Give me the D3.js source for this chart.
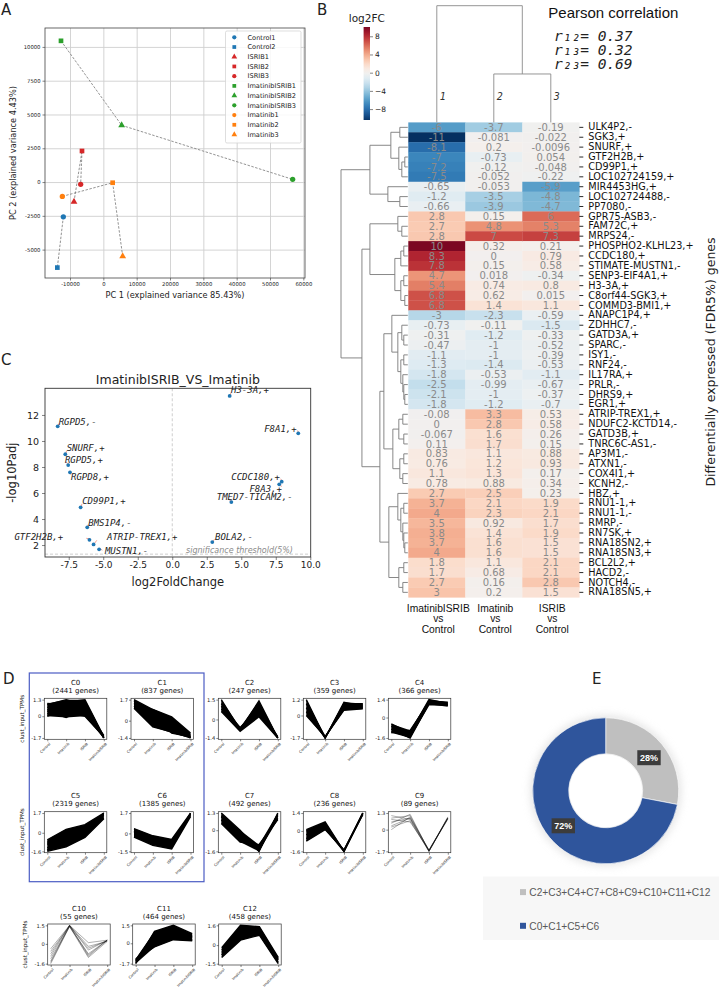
<!DOCTYPE html>
<html><head><meta charset="utf-8">
<script src="https://cdn.jsdelivr.net/npm/d3@7"></script>
<style>body{margin:0;background:#fff}svg{display:block}</style>
</head><body><svg id="fig" width="719" height="991"></svg>
<script>
// ================= DATA =================
// Panel A: PCA
const pcaSamples = ["Control1","Control2","ISRIB1","ISRIB2","ISRIB3","ImatinibISRIB1","ImatinibISRIB2","ImatinibISRIB3","Imatinib1","Imatinib2","Imatinib3"];
const pcaGroups  = ["Control","Control","ISRIB","ISRIB","ISRIB","ImatinibISRIB","ImatinibISRIB","ImatinibISRIB","Imatinib","Imatinib","Imatinib"];
const pcaShapes  = ["circle","square","triangle","square","circle","square","triangle","circle","circle","square","triangle"];
const pc1 = [-12000,-13800,-8800,-6400,-6800,-12700,5500,56800,-12300,2800,5800];
const pc2 = [-2570,-6330,-1460,2300,-170,10450,4200,200,-1060,-50,-5490];
const pcaXTicks = [-10000,0,10000,20000,30000,40000,50000,60000];
const pcaYTicks = [-5000,-2500,0,2500,5000,7500,10000];

// Panel B: heatmap
const heatGenes = ["ULK4P2,-","SGK3,+","SNURF,+","GTF2H2B,+","CD99P1,+","LOC102724159,+","MIR4453HG,+","LOC102724488,-","PP7080,-","GPR75-ASB3,-","FAM72C,+","MRPS24,-","PHOSPHO2-KLHL23,+","CCDC180,+","STIMATE-MUSTN1,-","SENP3-EIF4A1,+","H3-3A,+","C8orf44-SGK3,+","COMMD3-BMI1,+","ANAPC1P4,+","ZDHHC7,-","GATD3A,+","SPARC,-","ISY1,-","RNF24,-","IL17RA,+","PRLR,-","DHRS9,+","EGR1,+","ATRIP-TREX1,+","NDUFC2-KCTD14,-","GATD3B,+","TNRC6C-AS1,-","AP3M1,-","ATXN1,-","COX4I1,+","KCNH2,-","HBZ,+","RNU1-1,+","RNU1-1,-","RMRP,-","RN7SK,+","RNA18SN2,+","RNA18SN3,+","BCL2L2,+","HACD2,-","NOTCH4,-","RNA18SN5,+"];
const heatImatinibISRIB = [-6,-11,-8.1,-7,-7.2,-7.5,-0.65,-1.2,-0.66,2.8,2.7,2.8,10,8.3,7.8,4.7,5.4,6.8,6.8,-3,-0.73,-0.31,-0.47,-1.1,-1.3,-1.8,-2.5,-2.1,-1.8,-0.08,0,-0.067,0.11,0.83,0.76,1.1,0.78,2.7,3.7,4,3.5,3.8,3.7,4,1.8,1.7,2.7,3];
const heatImatinib = [-3.7,-0.081,0.2,-0.73,-0.12,-0.052,-0.053,-3.5,-3.9,0.15,4.8,7,0.32,0,0.15,0.018,0.74,0.62,1.4,-2.3,-0.11,-1.2,-1,-1,-1.4,-0.53,-0.99,-1,-1.2,3.3,2.8,1.6,1.7,1.1,1.2,1.3,0.88,2.5,2.1,2.3,0.92,1.4,1.6,1.6,1.1,0.68,0.16,0.2];
const heatISRIB = [-0.19,-0.022,-0.0096,0.054,-0.048,-0.22,-5.9,-4.8,-4.7,6,5.3,7.3,0.21,0.79,0.58,-0.34,0.8,0.015,1.1,-0.59,-1.5,-0.33,-0.52,-0.39,-0.53,-1.1,-0.67,-0.37,-0.7,0.53,0.58,0.26,0.15,0.88,0.93,0.17,0.34,0.23,1.9,2.1,1.7,1.9,1.5,1.5,2.1,2.1,2.8,1.5];
const heatColumns = [["ImatinibISRIB","vs","Control"],["Imatinib","vs","Control"],["ISRIB","vs","Control"]];
const colorbarTicks = [8,4,0,-4,-8];
const pearson = [["\u2081\u2082","0.37"],["\u2081\u2083","0.32"],["\u2082\u2083","0.69"]];
// row dendrogram: [height, left, right], leaves = row index
const rowTree = [67,
  [38, [17,[8,0,1],[9,2,[6,[3,3,4],5]]], [20,6,[8,7,8]]],
  [46,
    [38, [10,9,[6,10,11]], [13,[7,[4,12,13],14],[7,[4,15,16],[3,17,18]]]],
    [28,
      [24, [16,19,[10,[6,20,[4,21,22]],[7,[4,23,24],[5,25,[4,26,[3,27,28]]]]]],
           [15,[9,[5,29,30],[4,31,32]],[8,[4,33,34],[5,35,36]]]],
      [19,[10,37,[7,[4,38,39],[5,40,[4,41,[3,42,43]]]]],[9,[4,44,45],[5,46,47]]]
    ]
  ]
];
const colTree = [1.0, 0, [0.415, 1, 2]];

// Panel C: volcano
const volcGenes  = ["RGPD5,-","SNURF,+","RGPD5,+","RGPD8,+","CD99P1,+","BMS1P4,-","GTF2H2B,+","ATRIP-TREX1,+","MUSTN1,-","H3-3A,+","F8A1,+","CCDC180,+","F8A3,+","TMED7-TICAM2,-","BOLA2,-"];
const volcLog2FC = [-8.30,-7.75,-7.54,-7.41,-6.64,-6.16,-6.0,-5.7,-5.3,4.16,9.13,7.93,7.75,4.28,2.9];
const volcNegLogP = [11.13,8.98,8.15,7.59,4.9,3.36,2.4,2.05,1.67,13.46,10.59,6.87,6.67,5.3,2.23];
const volcXTicks = [-7.5,-5,-2.5,0,2.5,5,7.5,10];
const volcYTicks = [2,4,6,8,10,12];

// Panel D: clusters
const conditions = ["Control","Imatinib","ISRIB","ImatinibISRIB"];
const clusterNames = ["C0","C1","C2","C3","C4","C5","C6","C7","C8","C9","C10","C11","C12"];
const clusterSizes = [2441,837,247,359,366,2319,1385,492,236,89,55,464,458];
const clusterTicks = [[1.3,0,-1.7],[1.7,0,-1.4],[1.5,0,-1.4],[1.2,0,-1.7],[1.4,0,-1.6],[1.7,0,-1.6],[1.7,0,-1.5],[1.3,0,-1.6],[1.4,0,-1.6],[1.3,0,-1.7],[1.5,0,-1.6],[1.5,0,-1.7],[1.6,0,-1.5]];
const clusterProfiles = [
  [[1.0,0.9,1.2,-1.7],[0.9,1.3,0.9,-1.7],[0.5,1.1,1.3,-1.6],[0.0,0.6,0.3,-1.7],[0.4,-0.1,0.6,-1.5],[0.2,0.3,0.0,-1.6],[0.7,0.5,0.8,-1.7]],
  [[1.7,0.9,0.2,-1.2],[1.0,0.9,0.3,-1.0],[1.4,0.2,-0.3,-1.3],[1.2,-0.4,0.0,-1.4],[1.6,0.5,-1.0,-1.3],[1.0,-0.5,-0.9,-1.4]],
  [[1.5,-0.8,1.4,-1.4],[0.6,-0.9,0.2,-1.4],[1.0,-0.6,0.8,-1.3],[1.2,-0.8,0.4,-1.4],[0.8,-0.7,1.1,-1.4]],
  [[1.2,-1.7,0.9,0.9],[0.0,-1.6,0.5,0.6],[0.6,-1.7,0.7,0.8],[0.9,-1.6,0.4,0.5],[0.3,-1.7,1.0,0.7]],
  [[-0.5,-1.2,1.4,1.1],[-1.2,-1.0,1.2,1.0],[-0.9,-1.6,1.1,0.9],[-0.7,-1.3,1.3,1.2],[-1.1,-1.5,1.0,1.0]],
  [[-0.6,0.3,0.7,1.7],[-1.6,-1.2,-0.4,1.2],[-1.0,0.0,0.2,1.5],[-1.3,-0.5,0.5,1.6],[-0.8,-0.9,-0.1,1.3],[-1.5,0.2,0.0,1.7]],
  [[0.4,-0.2,-0.5,1.7],[-0.3,-1.0,-1.3,1.4],[0.1,-0.5,-0.8,1.6],[0.2,-0.8,-0.6,1.5],[-0.1,-0.3,-1.1,1.7]],
  [[1.3,0.0,-1.6,1.3],[0.5,-0.9,-1.1,0.8],[1.0,-0.4,-1.4,1.1],[0.8,-0.7,-1.2,0.9],[1.1,-0.2,-1.6,1.2]],
  [[0.1,0.7,-1.6,1.4],[-0.8,0.1,-1.5,1.3],[-0.3,0.5,-1.6,1.4],[-0.6,0.3,-1.5,1.4],[0.0,0.2,-1.6,1.3]],
  [[1.1,0.8,-1.7,0.9],[0.0,1.0,-1.6,0.9],[0.5,1.2,-1.7,1.0],[0.8,0.6,-1.6,0.8],[0.3,0.9,-1.7,0.9],[0.9,1.1,-1.65,0.85],[0.2,0.7,-1.7,0.95],[0.6,0.9,-1.6,0.9]],
  [[-0.4,1.5,0.1,0.3],[-1.6,1.4,-1.1,0.2],[-0.8,1.5,-0.5,0.3],[-1.2,1.4,-0.8,0.3],[-1.0,1.5,-0.2,0.2],[-1.4,1.5,-0.9,0.3],[-0.6,1.45,-0.35,0.25],[-1.5,1.45,-1.0,0.3]],
  [[-1.7,1.0,1.5,0.8],[-1.3,-0.3,0.3,0.2],[-1.5,0.6,1.0,0.5],[-1.6,0.2,0.8,0.6],[-1.4,0.8,0.4,0.3]],
  [[-0.2,1.6,1.5,-1.0],[-1.0,0.4,0.8,-1.5],[-0.6,1.0,1.2,-1.2],[-0.8,1.4,0.9,-1.4],[-0.4,0.7,1.4,-1.1]]
];
const clusterSparse = [false,false,false,false,false,false,false,false,false,true,true,false,false];

// Panel E: donut
const donutLabels = ["C2+C3+C4+C7+C8+C9+C10+C11+C12","C0+C1+C5+C6"];
const donutValues = [28,72];

// ================= DRAWING =================
const svg = d3.select("#fig");
svg.append("rect").attr("width",719).attr("height",991).attr("fill","#fff");
const defs = svg.append("defs");
const FS = "DejaVu Sans, sans-serif", FA = "Liberation Sans, Arial, sans-serif", FM = "DejaVu Sans Mono, monospace";
const loc = d3.formatLocale({decimal:".",thousands:",",grouping:[3],currency:["",""],minus:"-"});
const fmt2 = loc.format(".2~g");
const fmtG = loc.format("~g");

function txt(g, s, x, y, size, fam, opts={}) {
  const t = g.append("text").attr("x",x).attr("y",y).attr("font-size",size).attr("font-family",fam)
    .attr("fill",opts.fill||"#111").text(s);
  if (opts.anchor) t.attr("text-anchor",opts.anchor);
  if (opts.style) t.attr("font-style",opts.style);
  if (opts.weight) t.attr("font-weight",opts.weight);
  if (opts.rotate!==undefined) t.attr("transform",`rotate(${opts.rotate},${x},${y})`);
  return t;
}
function styleAxis(g, size, fam, col="#222") {
  g.select(".domain").remove();
  g.selectAll(".tick text").attr("font-size",size).attr("font-family",fam).attr("fill",col);
  g.selectAll(".tick line").attr("stroke","#333").attr("stroke-width",0.6);
}

// panel letters
[["A",1,15],["B",317,15],["C",1,365],["D",3,684],["E",592,684]].forEach(([s,x,y])=>txt(svg,s,x,y,15,FS,{fill:"#222"}));

// ---------- Panel A ----------
{
  const L=45,R=305,T=28,B=278;
  const x = d3.scaleLinear().domain([-17500,60500]).range([L,R]);
  const y = d3.scaleLinear().domain([-7100,11400]).range([B,T]);
  const g = svg.append("g");
  g.append("g").attr("transform",`translate(0,${B})`).call(d3.axisBottom(x).tickValues(pcaXTicks).tickSize(-(B-T)).tickFormat(""))
    .call(a=>{a.select(".domain").remove();a.selectAll("line").attr("stroke","#cfcfcf").attr("stroke-width",0.9);});
  g.append("g").attr("transform",`translate(${L},0)`).call(d3.axisLeft(y).tickValues(pcaYTicks).tickSize(-(R-L)).tickFormat(""))
    .call(a=>{a.select(".domain").remove();a.selectAll("line").attr("stroke","#cfcfcf").attr("stroke-width",0.9);});
  g.append("g").attr("transform",`translate(0,${B})`).call(d3.axisBottom(x).tickValues(pcaXTicks).tickSize(2.5).tickPadding(2).tickFormat(loc.format("d")))
    .call(a=>styleAxis(a,5.3,FS));
  g.append("g").attr("transform",`translate(${L},0)`).call(d3.axisLeft(y).tickValues(pcaYTicks).tickSize(2.5).tickPadding(2).tickFormat(loc.format("d")))
    .call(a=>styleAxis(a,5.3,FS));
  g.append("rect").attr("x",L).attr("y",T).attr("width",R-L).attr("height",B-T).attr("fill","none").attr("stroke","#444").attr("stroke-width",0.8);
  const colorOf = {Control:"#1f77b4",ISRIB:"#d62728",ImatinibISRIB:"#2ca02c",Imatinib:"#ff7f0e"};
  const symOf = {circle:d3.symbolCircle,square:d3.symbolSquare,triangle:d3.symbolTriangle};
  const groups = ["Control","ISRIB","ImatinibISRIB","Imatinib"];
  groups.forEach(gr=>{
    const idx = pcaGroups.map((v,i)=>v===gr?i:-1).filter(i=>i>=0);
    g.append("path").attr("d",d3.line()(idx.map(i=>[x(pc1[i]),y(pc2[i])])))
      .attr("fill","none").attr("stroke","#777").attr("stroke-width",0.8).attr("stroke-dasharray","2.5,1.5");
  });
  pcaSamples.forEach((s,i)=>{
    g.append("path").attr("d",d3.symbol(symOf[pcaShapes[i]], pcaShapes[i]==="triangle"?20:22)())
      .attr("transform",`translate(${x(pc1[i])},${y(pc2[i])})`).attr("fill",colorOf[pcaGroups[i]]);
  });
  // legend
  g.append("rect").attr("x",225.5).attr("y",31).attr("width",75.5).attr("height",112).attr("rx",1.5)
    .attr("fill","#fff").attr("fill-opacity",0.85).attr("stroke","#d0d0d0").attr("stroke-width",0.7);
  pcaSamples.forEach((s,i)=>{
    const yy = 37.3 + i*9.72;
    g.append("path").attr("d",d3.symbol(symOf[pcaShapes[i]], 14)()).attr("transform",`translate(234.3,${yy})`).attr("fill",colorOf[pcaGroups[i]]);
    txt(g,s,247.5,yy+2.3,6.6,FS,{fill:"#222"});
  });
  txt(g,"PC 1 (explained variance 85.43%)",(L+R)/2,297.5,8.2,FS,{anchor:"middle",fill:"#222"});
  txt(g,"PC 2 (explained variance 4.43%)",16,153,8.2,FS,{anchor:"middle",rotate:-90,fill:"#222"});
}

// ---------- Panel B ----------
{
  const g = svg.append("g");
  const HL=408.3, HR=579.3, HT=122.4, HB=597.3;
  const col = d3.scaleBand().domain([0,1,2]).range([HL,HR]);
  const row = d3.scaleBand().domain(d3.range(heatGenes.length)).range([HT,HB]);
  const vr = 10.6;
  const color = v => d3.interpolateRdBu(Math.max(0,Math.min(1,0.5 - v/(2*vr))));
  const cols = [heatImatinibISRIB, heatImatinib, heatISRIB];
  cols.forEach((vals,c)=>{
    vals.forEach((v,r)=>{
      g.append("rect").attr("x",col(c)).attr("y",row(r)).attr("width",col.bandwidth()+0.3).attr("height",row.bandwidth()+0.3).attr("fill",color(v));
    });
  });
  cols.forEach((vals,c)=>{
    vals.forEach((v,r)=>{
      txt(g,fmt2(v),col(c)+col.bandwidth()/2,row(r)+row.bandwidth()/2+3.6,10,FS,{anchor:"middle",fill:"#8a8a8a"});
    });
  });
  // gene labels
  g.append("g").attr("transform",`translate(${HR},0)`).call(d3.axisRight(row).tickSize(4).tickPadding(5).tickFormat(i=>heatGenes[i]))
    .call(a=>{styleAxis(a,9.7,FS,"#111");a.selectAll(".tick line").attr("stroke","#111").attr("stroke-width",0.9);});
  // column labels
  heatColumns.forEach((lines,c)=>{
    lines.forEach((s,k)=>txt(g,s,col(c)+col.bandwidth()/2+1.5,612+k*10.4,10.3,FA,{anchor:"middle",fill:"#111"}));
  });
  // dendrograms
  const rx = d3.scaleLinear().domain([0,67]).range([HL-0.5,341]);
  function drawRow(node){
    if (typeof node === "number") return {y: row(node)+row.bandwidth()/2, h:0};
    const [h,l,r] = node; const A=drawRow(l), Bn=drawRow(r);
    g.append("path").attr("d",`M${rx(A.h)},${A.y}H${rx(h)}V${Bn.y}H${rx(Bn.h)}`).attr("fill","none").attr("stroke","#7a7a7a").attr("stroke-width",0.9);
    return {y:(A.y+Bn.y)/2, h};
  }
  drawRow(rowTree);
  const cy = d3.scaleLinear().domain([0,1]).range([HT,5.7]);
  function drawCol(node){
    if (typeof node === "number") return {x: col(node)+col.bandwidth()/2, h:0};
    const [h,l,r] = node; const A=drawCol(l), Bn=drawCol(r);
    g.append("path").attr("d",`M${A.x},${cy(A.h)}V${cy(h)}H${Bn.x}V${cy(Bn.h)}`).attr("fill","none").attr("stroke","#8a8a8a").attr("stroke-width",0.9);
    return {x:(A.x+Bn.x)/2, h};
  }
  drawCol(colTree);
  ["1","2","3"].forEach((s,c)=>txt(g,s,col(c)+col.bandwidth()/2+3,100,10,FM,{style:"italic",fill:"#333"}));
  // colorbar
  const cb = d3.scaleLinear().domain([-10.4,10.04]).range([120,27]);
  const grad = defs.append("linearGradient").attr("id","cbgrad").attr("x1",0).attr("y1",1).attr("x2",0).attr("y2",0);
  d3.range(0,1.0001,0.05).forEach(t=>{
    const v = -10.4 + t*(20.44);
    grad.append("stop").attr("offset",t).attr("stop-color",color(v));
  });
  g.append("rect").attr("x",363.6).attr("y",27).attr("width",6.4).attr("height",93).attr("fill","url(#cbgrad)");
  g.append("g").attr("transform","translate(370,0)").call(d3.axisRight(cb).tickValues(colorbarTicks).tickSize(3).tickPadding(2).tickFormat(d3.format("d")))
    .call(a=>styleAxis(a,7.5,FS,"#222"));
  txt(g,"log2FC",366.8,21.5,10.5,FS,{anchor:"middle",fill:"#222"});
  // pearson
  txt(g,"Pearson correlation",548.3,18.3,15,FA,{fill:"#111"});
  pearson.forEach(([sub,val],k)=>{
    const t = g.append("text").attr("x",554).attr("y",40.5+k*14.3).attr("font-family",FM).attr("font-size",14.5).attr("font-style","italic").attr("fill","#222");
    t.append("tspan").text("r");
    t.append("tspan").text(sub);
    t.append("tspan").text("= "+val);
  });
  txt(g,"Differentially expressed (FDR5%) genes",715,362,12.5,FS,{anchor:"middle",rotate:-90,fill:"#222"});
}

// ---------- Panel C ----------
{
  const L=45,R=310.7,T=388.3,B=557;
  const x = d3.scaleLinear().domain([-9.22,10.03]).range([L,R]);
  const y = d3.scaleLinear().domain([1.08,14.05]).range([B,T]);
  const g = svg.append("g");
  g.append("line").attr("x1",x(0)).attr("x2",x(0)).attr("y1",T).attr("y2",B).attr("stroke","#c8c8c8").attr("stroke-width",0.9).attr("stroke-dasharray","3,2");
  g.append("line").attr("x1",L).attr("x2",R).attr("y1",y(1.3)).attr("y2",y(1.3)).attr("stroke","#c8c8c8").attr("stroke-width",0.9).attr("stroke-dasharray","3,2");
  txt(g,"significance threshold(5%)",186,553,8,FS,{style:"italic",fill:"#8a8a8a"});
  g.append("g").attr("transform",`translate(0,${B})`).call(d3.axisBottom(x).tickValues(volcXTicks).tickSize(3).tickPadding(2).tickFormat(loc.format(".1f")))
    .call(a=>styleAxis(a,9,FS));
  g.append("g").attr("transform",`translate(${L},0)`).call(d3.axisLeft(y).tickValues(volcYTicks).tickSize(3).tickPadding(3).tickFormat(d3.format("d")))
    .call(a=>styleAxis(a,9.5,FS));
  g.append("rect").attr("x",L).attr("y",T).attr("width",R-L).attr("height",B-T).attr("fill","none").attr("stroke","#333").attr("stroke-width",0.9);
  const labelPos = {
    "RGPD5,-":[1,-4.6,"start"],"SNURF,+":[1.4,-6,"start"],"RGPD5,+":[-3.3,-5.7,"start"],"RGPD8,+":[1,4.4,"start"],
    "CD99P1,+":[1.6,-6.3,"start"],"BMS1P4,-":[1,-5,"start"],"GTF2H2B,+":[-75,-2.8,"start"],"ATRIP-TREX1,+":[13.4,-7.4,"start"],
    "MUSTN1,-":[5.8,1.7,"start"],"H3-3A,+":[1.3,-6,"start"],"F8A1,+":[-1.6,-5,"end"],"CCDC180,+":[-1.7,-5,"end"],
    "F8A3,+":[2.7,4.7,"end"],"TMED7-TICAM2,-":[-14.6,-5.3,"start"],"BOLA2,-":[2.7,-5,"start"]
  };
  volcGenes.forEach((s,i)=>{
    const px=x(volcLog2FC[i]), py=y(volcNegLogP[i]);
    const [dx,dy] = labelPos[s];
    g.append("line").attr("x1",px+0.8).attr("y1",py-0.8).attr("x2",px+(dx>0?Math.min(dx,4):Math.max(dx,-4))*0.8).attr("y2",py+dy*0.55)
      .attr("stroke","#f08a7a").attr("stroke-width",0.8);
  });
  volcGenes.forEach((s,i)=>{
    const px=x(volcLog2FC[i]), py=y(volcNegLogP[i]);
    const [dx,dy,anc] = labelPos[s];
    txt(g,s,px+dx,py+dy+3.2,9,FM,{style:"italic",anchor:anc,fill:"#222"});
    g.append("circle").attr("cx",px).attr("cy",py).attr("r",1.9).attr("fill","#1f77b4");
  });
  txt(g,"ImatinibISRIB_VS_Imatinib",(L+R)/2,383.5,12.5,FS,{anchor:"middle",fill:"#222"});
  txt(g,"log2FoldChange",(L+R)/2,586,11.5,FS,{anchor:"middle",fill:"#222"});
  txt(g,"-log10Padj",16,(T+B)/2,11.5,FS,{anchor:"middle",rotate:-90,fill:"#222"});
}

// ---------- Panel D ----------
{
  const g = svg.append("g");
  const dCols=[44.3,131,218.3,303.3,388.3], dRows=[698.3,811.7,924], row3=[47.7,132.7,218.7];
  const dW=62.5, dH=41;
  g.append("rect").attr("x",29.3).attr("y",673).attr("width",174.7).attr("height",208.7).attr("fill","none").attr("stroke","#4b5cc4").attr("stroke-width",1.2);
  clusterNames.forEach((name,i)=>{
    const X = i<10 ? dCols[i%5] : row3[i-10];
    const Y = dRows[Math.floor(i/5)];
    const sg = g.append("g").attr("transform",`translate(${X},${Y})`);
    const ticks = clusterTicks[i]; const lo=d3.min(ticks), hi=d3.max(ticks), pad=(hi-lo)*0.035;
    const sy = d3.scaleLinear().domain([lo-pad,hi+pad]).range([dH,0]);
    const sx = d3.scalePoint().domain(conditions).range([3,dW-3]);
    const prof = clusterProfiles[i];
    if (!clusterSparse[i]) {
      const mins = conditions.map((c,k)=>d3.min(prof,p=>p[k]));
      const maxs = conditions.map((c,k)=>d3.max(prof,p=>p[k]));
      sg.append("path").attr("d",d3.area().x((d,k)=>sx(conditions[k])).y0((d,k)=>sy(mins[k])).y1((d,k)=>sy(maxs[k]))(conditions)).attr("fill","#000");
      prof.forEach(p=>sg.append("path").attr("d",d3.line().x((d,k)=>sx(conditions[k])).y(d=>sy(d))(p)).attr("fill","none").attr("stroke","#000").attr("stroke-width",1.4));
    } else {
      prof.forEach(p=>sg.append("path").attr("d",d3.line().x((d,k)=>sx(conditions[k])).y(d=>sy(d))(p)).attr("fill","none").attr("stroke","#000").attr("stroke-opacity",0.45).attr("stroke-width",0.7));
    }
    sg.append("rect").attr("width",dW).attr("height",dH).attr("fill","none").attr("stroke","#333").attr("stroke-width",0.7);
    sg.append("g").call(d3.axisLeft(sy).tickValues(ticks).tickSize(2).tickPadding(1).tickFormat(fmtG)).call(a=>styleAxis(a,5.2,FS));
    sg.append("g").attr("transform",`translate(0,${dH})`).call(d3.axisBottom(sx).tickSize(2).tickPadding(1))
      .call(a=>{styleAxis(a,3.6,FS);a.selectAll(".tick text").attr("text-anchor","end").attr("dy","0.3em").attr("transform","translate(0,2) rotate(-45)");});
    txt(sg,name,dW/2,-13.5,7,FS,{anchor:"middle",fill:"#111"});
    txt(sg,`(${clusterSizes[i]} genes)`,dW/2,-5.3,7,FS,{anchor:"middle",fill:"#111"});
    if (i%5===0) txt(sg,"clust_input_TPMs",-20.5,dH/2,5.6,FS,{anchor:"middle",rotate:-90,fill:"#111"});
  });
}

// ---------- Panel E ----------
{
  const g = svg.append("g").attr("transform","translate(605.7,790.8)");
  const f = defs.append("filter").attr("id","sh").attr("x","-30%").attr("y","-30%").attr("width","160%").attr("height","160%");
  f.append("feGaussianBlur").attr("stdDeviation",4);
  g.append("circle").attr("r",75).attr("fill","#d8d8d8").attr("filter","url(#sh)").attr("opacity",0.7);
  const pie = d3.pie().sort(null)(donutValues);
  const arc = d3.arc().innerRadius(37).outerRadius(73);
  const cols = ["#bfbfbf","#2f559c"];
  g.selectAll(".sl").data(pie).join("path").attr("d",arc).attr("fill",(d,i)=>cols[i]).attr("stroke","#fff").attr("stroke-width",0.6);
  g.append("circle").attr("r",36.5).attr("fill","#fff");
  const lblPos = [[43.3,-33.1],[-42.4,35]];
  pie.forEach((d,i)=>{
    const [lx,ly] = lblPos[i];
    g.append("rect").attr("x",lx-11.7).attr("y",ly-7.5).attr("width",23.4).attr("height",15).attr("fill","#3c3c3c");
    txt(g,d.data+"%",lx,ly+3.3,9,FA,{anchor:"middle",fill:"#fff",weight:"bold"});
  });
  svg.append("rect").attr("x",483).attr("y",876.5).attr("width",236).attr("height",63.5).attr("fill","#f7f7f7");
  donutLabels.forEach((s,i)=>{
    const yy = [892.3,926][i];
    svg.append("rect").attr("x",520).attr("y",yy-3.2).attr("width",6).attr("height",6).attr("fill",cols[i]);
    txt(svg,s,529.3,yy+3.6,10.2,FA,{fill:"#595959"});
  });
}
</script></body></html>
